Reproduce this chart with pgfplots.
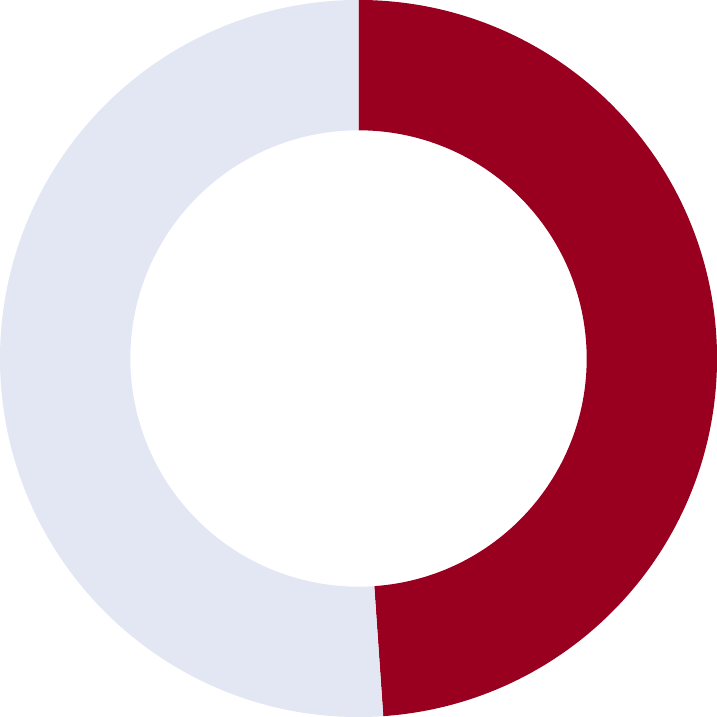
\documentclass[border=0pt]{standalone}
\usepackage{pgfplots}
\pgfplotsset{compat=1.18}
\usepackage{pgfplotstable}
\definecolor{donutred}{RGB}{153,0,32}
\definecolor{donutgray}{RGB}{227,230,243}
\pgfplotstableread{
part value
A 48.9
B 51.1
}\donutdata
\pgfplotstablegetelem{0}{value}\of\donutdata
\let\va\pgfplotsretval
\pgfplotstablegetelem{1}{value}\of\donutdata
\let\vb\pgfplotsretval
\begin{document}
\begin{tikzpicture}
\begin{axis}[width=10cm, height=10cm, scale only axis,
             xmin=-1, xmax=1, ymin=-1, ymax=1,
             enlargelimits=false, hide axis, clip=false]
  \pgfmathsetmacro{\total}{\va+\vb}
  \pgfmathsetmacro{\aend}{90-3.6*(\va/\total)*100}
  \pgfmathsetmacro{\bend}{\aend-3.6*(\vb/\total)*100}
  \def\rin{0.6365}
  % sector A
  \fill[donutred] (axis cs:{cos(90)},{sin(90)})
    arc[start angle=90, end angle=\aend, radius=5cm]
    -- (axis cs:{\rin*cos(\aend)},{\rin*sin(\aend)})
    arc[start angle=\aend, end angle=90, radius=\rin*5cm] -- cycle;
  % sector B
  \fill[donutgray] (axis cs:{cos(\aend)},{sin(\aend)})
    arc[start angle=\aend, end angle=\bend, radius=5cm]
    -- (axis cs:{\rin*cos(\bend)},{\rin*sin(\bend)})
    arc[start angle=\bend, end angle=\aend, radius=\rin*5cm] -- cycle;
\end{axis}
\pgfresetboundingbox
\path (current axis.south west) rectangle (current axis.north east);
\end{tikzpicture}
\end{document}
